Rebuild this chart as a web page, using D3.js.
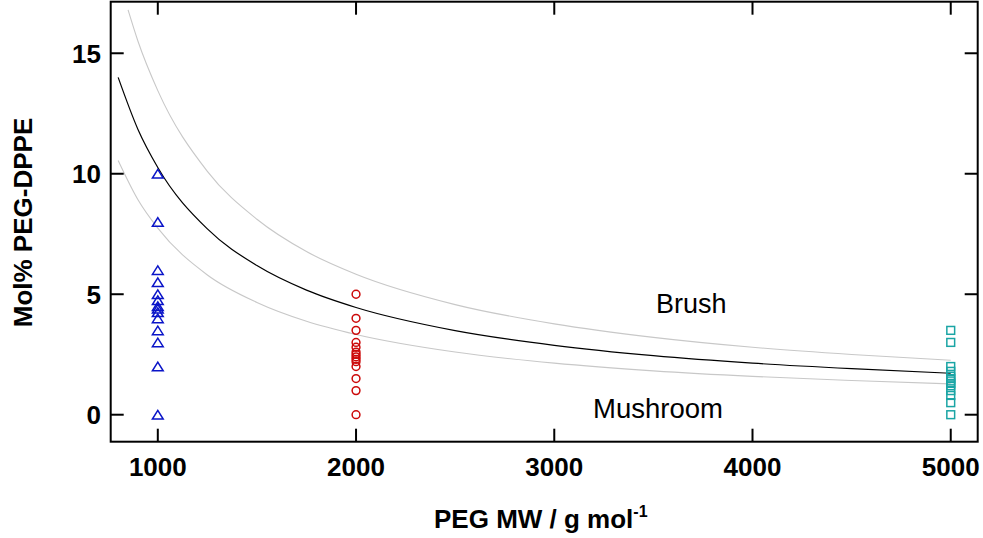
<!DOCTYPE html>
<html><head><meta charset="utf-8">
<script src="https://cdn.jsdelivr.net/npm/d3@7"></script>
<style>body{margin:0;background:#fff}svg{display:block}</style>
</head><body>
<svg id="c" width="983" height="538"></svg>
<script>
// ---- data ----
const xTicks = [1000, 2000, 3000, 4000, 5000];
const yTicks = [0, 5, 10, 15];

const mw1000 = 1000;
const vals1000 = [10, 8, 6, 5.5, 5, 4.75, 4.5, 4.4, 4.25, 4.0, 3.5, 3, 2, 0];
const mw2000 = 2000;
const vals2000 = [5, 4, 3.5, 3, 2.8, 2.6, 2.5, 2.4, 2.3, 2.2, 2.0, 1.5, 1, 0];
const mw5000 = 5000;
const vals5000 = [3.5, 3, 2.0, 1.8, 1.6, 1.5, 1.4, 1.3, 1.2, 1.0, 0.8, 0.5, 0];

const curveMW    = [800, 900, 1000, 1250, 1500, 1750, 2000, 2500, 3000, 3500, 4000, 4500, 5000];
const midCurve   = [14.0, 11.84, 10.26, 7.71, 6.19, 5.17, 4.45, 3.49, 2.88, 2.45, 2.14, 1.91, 1.72];
const upperMW    = [850, 900, 1000, 1250, 1500, 1750, 2000, 2500, 3000, 3500, 4000, 4500, 5000];
const upperCurve = [16.8, 15.5, 13.45, 10.1, 8.11, 6.77, 5.83, 4.57, 3.77, 3.21, 2.8, 2.5, 2.26];
const lowerCurve = [10.55, 8.92, 7.74, 5.8, 4.66, 3.88, 3.33, 2.6, 2.14, 1.82, 1.59, 1.42, 1.28];

const labelBrush = "Brush";
const labelMushroom = "Mushroom";

// ---- layout ----
const svg = d3.select("#c");
const L = 110.7, R = 977.7, T = 1.7, B = 441.7;
const x = d3.scaleLinear().domain([762.4, 5136]).range([L, R]);
const y = d3.scaleLinear().domain([-1.12, 17.14]).range([B, T]);
const font = "'Liberation Sans', Arial, sans-serif";

// curves
const line = d3.line().x(d => x(d[0])).y(d => y(d[1])).curve(d3.curveMonotoneX);
svg.append("path").datum(d3.zip(upperMW, upperCurve)).attr("d", line)
  .attr("fill", "none").attr("stroke", "#c8c8c8").attr("stroke-width", 1.1);
svg.append("path").datum(d3.zip(curveMW, lowerCurve)).attr("d", line)
  .attr("fill", "none").attr("stroke", "#c8c8c8").attr("stroke-width", 1.1);
svg.append("path").datum(d3.zip(curveMW, midCurve)).attr("d", line)
  .attr("fill", "none").attr("stroke", "#000").attr("stroke-width", 1.2);

// markers
svg.append("g").selectAll("path").data(vals1000).join("path")
  .attr("d", "M0,-4.3L5.4,4.3L-5.4,4.3Z")
  .attr("transform", d => `translate(${x(mw1000)},${y(d)})`)
  .attr("fill", "none").attr("stroke", "#0a14c8").attr("stroke-width", 1.5);
svg.append("g").selectAll("circle").data(vals2000).join("circle")
  .attr("cx", x(mw2000)).attr("cy", d => y(d)).attr("r", 3.9)
  .attr("fill", "none").attr("stroke", "#cc0a0a").attr("stroke-width", 1.5);
svg.append("g").selectAll("rect").data(vals5000).join("rect")
  .attr("x", x(mw5000) - 3.9).attr("y", d => y(d) - 3.9).attr("width", 7.8).attr("height", 7.8)
  .attr("fill", "none").attr("stroke", "#1aa5a5").attr("stroke-width", 1.5);

// frame
svg.append("rect").attr("x", L).attr("y", T).attr("width", R - L).attr("height", B - T)
  .attr("fill", "none").attr("stroke", "#000").attr("stroke-width", 2);

// ticks (inward, mirrored)
const tl = 13;
const tg = svg.append("g").attr("stroke", "#000").attr("stroke-width", 2);
xTicks.forEach(t => {
  tg.append("line").attr("x1", x(t)).attr("x2", x(t)).attr("y1", B).attr("y2", B - tl);
  tg.append("line").attr("x1", x(t)).attr("x2", x(t)).attr("y1", T).attr("y2", T + tl);
});
yTicks.forEach(t => {
  tg.append("line").attr("y1", y(t)).attr("y2", y(t)).attr("x1", L).attr("x2", L + tl);
  tg.append("line").attr("y1", y(t)).attr("y2", y(t)).attr("x1", R).attr("x2", R - tl);
});

// tick labels
svg.append("g").selectAll("text").data(xTicks).join("text")
  .attr("x", d => x(d)).attr("y", 476).attr("text-anchor", "middle")
  .attr("font-family", font).attr("font-weight", "bold").attr("font-size", 26)
  .text(d => d);
svg.append("g").selectAll("text").data(yTicks).join("text")
  .attr("x", 101).attr("y", d => y(d) + 9.3).attr("text-anchor", "end")
  .attr("font-family", font).attr("font-weight", "bold").attr("font-size", 26)
  .text(d => d);

// axis titles
const xt = svg.append("text").attr("x", 434).attr("y", 528)
  .attr("font-family", font).attr("font-weight", "bold").attr("font-size", 26);
xt.append("tspan").text("PEG MW / g mol");
xt.append("tspan").attr("dy", -11).attr("font-size", 16).text("-1");

svg.append("text").attr("transform", "translate(32,222.5) rotate(-90)")
  .attr("text-anchor", "middle")
  .attr("font-family", font).attr("font-weight", "bold").attr("font-size", 26)
  .text("Mol% PEG-DPPE");

// region labels
svg.append("text").attr("x", 656).attr("y", 312.7)
  .attr("font-family", font).attr("font-size", 27).text(labelBrush);
svg.append("text").attr("x", 593).attr("y", 418.3)
  .attr("font-family", font).attr("font-size", 27.5).text(labelMushroom);
</script>
</body></html>
